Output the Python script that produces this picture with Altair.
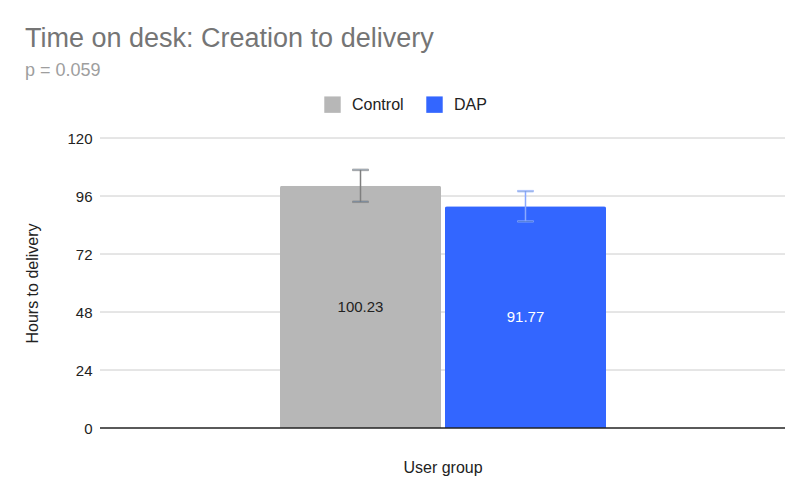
import altair as alt
import pandas as pd

groups = ["Control", "DAP"]
hours = [100.23, 91.77]
err_low = [93.6, 85.5]
err_high = [106.8, 98.0]
bar_colors = ["#b7b7b7", "#3366ff"]
err_colors = ["#7f7f7f", "#8aa9ff"]
label_colors = ["#222222", "#ffffff"]
y_ticks = [0, 24, 48, 72, 96, 120]

df = pd.DataFrame({
    "group": groups,
    "hours": hours,
    "half": [h / 2 for h in hours],
    "lo": err_low,
    "hi": err_high,
    "errcolor": err_colors,
    "txtcolor": label_colors,
    "label": [f"{h:.2f}" for h in hours],
})
grid_df = pd.DataFrame({"tick": y_ticks[1:]})

FONT = "Liberation Sans"
W, H = 685, 290

x_enc = alt.X(
    "group:N",
    sort=groups,
    scale=alt.Scale(range=[180, 506], paddingInner=0.024, paddingOuter=0),
    axis=alt.Axis(title="User group", labels=False, ticks=False, domain=False,
                  titleFontWeight="normal", titleFontSize=16, titleColor="#222222",
                  titlePadding=31, titleX=W / 2),
)

# gridlines drawn by hand so they span the whole plot width
grid = alt.Chart(grid_df).mark_rule(color="#cccccc", strokeWidth=1).encode(
    x=alt.value(0), x2=alt.value(W),
    y=alt.Y("tick:Q", scale=alt.Scale(domain=[0, 120])),
)

base = alt.Chart(df).encode(x=x_enc)

bars = base.mark_bar(cornerRadiusTopLeft=2, cornerRadiusTopRight=2).encode(
    y=alt.Y("hours:Q",
            scale=alt.Scale(domain=[0, 120]),
            axis=alt.Axis(title="Hours to delivery", values=y_ticks, grid=False,
                          tickSize=0, domain=False, labelPadding=8, labelFontSize=15,
                          labelColor="#222222",
                          titleFontWeight="normal", titleFontSize=16,
                          titleColor="#222222", titlePadding=26)),
    color=alt.Color("group:N", sort=groups,
                    scale=alt.Scale(domain=groups, range=bar_colors),
                    legend=alt.Legend(title=None, orient="none", direction="horizontal",
                                      legendX=224, legendY=-42, symbolType="square",
                                      symbolSize=270, symbolStrokeWidth=0,
                                      labelFontSize=16, labelColor="#222222",
                                      columnPadding=22, labelOffset=11)),
)

baseline = alt.Chart(df).mark_rule(color="#222222", strokeWidth=1).encode(
    x=alt.value(0), x2=alt.value(W), y=alt.datum(0),
)

rules = base.mark_rule(strokeWidth=1.5).encode(
    y="lo:Q", y2="hi:Q",
    stroke=alt.Stroke("errcolor:N", scale=None, legend=None),
)
tops = base.mark_tick(size=16, thickness=1.5).encode(
    y="hi:Q", stroke=alt.Stroke("errcolor:N", scale=None, legend=None),
)
bottoms = base.mark_tick(size=16, thickness=1.5).encode(
    y="lo:Q", stroke=alt.Stroke("errcolor:N", scale=None, legend=None),
)
labels = base.mark_text(fontSize=15, font=FONT).encode(
    y="half:Q", text="label:N",
    fill=alt.Fill("txtcolor:N", scale=None, legend=None),
)

chart = alt.layer(grid, bars, baseline, rules, tops, bottoms, labels).properties(
    width=W,
    height=H,
    autosize=alt.AutoSizeParams(type="none"),
    padding={"left": 92, "top": 130, "right": 10, "bottom": 70},
    title=alt.TitleParams(
        "Time on desk: Creation to delivery",
        subtitle="p = 0.059",
        anchor="start",
        frame="group",
        dx=-75,
        offset=15,
        fontSize=27,
        fontWeight="normal",
        color="#757575",
        subtitleFontSize=18,
        subtitleColor="#9e9e9e",
        subtitlePadding=9,
        font=FONT,
        subtitleFont=FONT,
    ),
).configure(font=FONT).configure_view(stroke=None).configure_axis(
    labelFont=FONT, titleFont=FONT
).configure_legend(labelFont=FONT)

chart.save("out.html", embed_options={"renderer": "svg", "actions": False})
